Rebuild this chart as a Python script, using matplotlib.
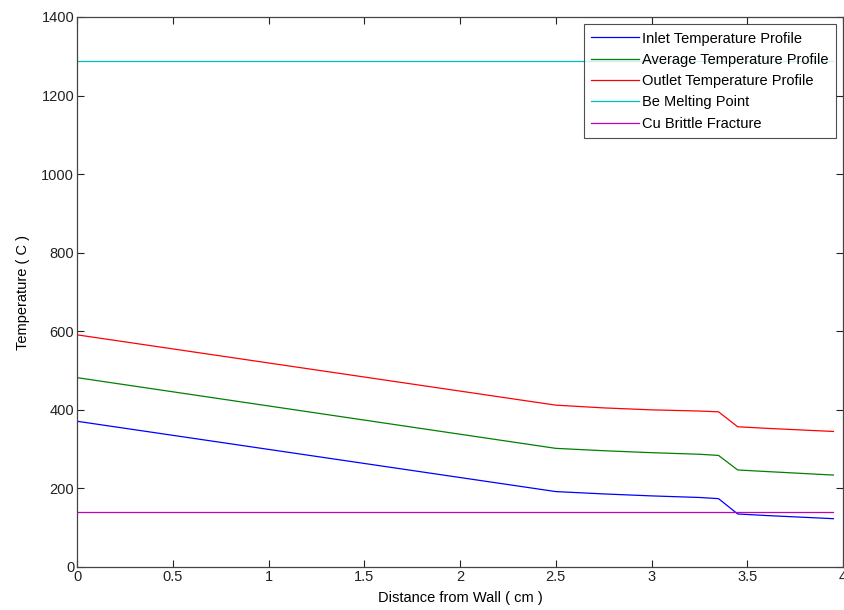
"""
Wall temperature profiles vs. distance from wall, with material limits.
"""

import matplotlib.pyplot as plt

# --- data ---
distance_cm = [0.0, 2.5, 2.75, 3.0, 3.25, 3.35, 3.45, 3.6, 3.95]
inlet_temp = [371, 192, 186, 181, 177, 174, 135, 131, 123]
average_temp = [482, 302, 296, 291, 287, 284, 247, 243, 234]
outlet_temp = [591, 412, 405, 400, 397, 395, 357, 353, 345]

be_melting_point = 1287
cu_brittle_fracture = 140

x_ticks = [0, 0.5, 1, 1.5, 2, 2.5, 3, 3.5, 4]
y_ticks = [0, 200, 400, 600, 800, 1000, 1200, 1400]

plt.rcParams["font.family"] = ["Liberation Sans", "DejaVu Sans"]

fig = plt.figure(figsize=(8.44, 6.10), dpi=100)
ax = fig.add_axes([77 / 844, 43 / 610, 766 / 844, 550 / 610])

lw = 0.9
ax.plot(distance_cm, inlet_temp, color="#0000ff", linewidth=lw, label="Inlet Temperature Profile")
ax.plot(distance_cm, average_temp, color="#008000", linewidth=lw, label="Average Temperature Profile")
ax.plot(distance_cm, outlet_temp, color="#ff0000", linewidth=lw, label="Outlet Temperature Profile")
ax.plot([distance_cm[0], distance_cm[-1]], [be_melting_point] * 2,
        color="#00bfbf", linewidth=lw, label="Be Melting Point")
ax.plot([distance_cm[0], distance_cm[-1]], [cu_brittle_fracture] * 2,
        color="#bf00bf", linewidth=lw, label="Cu Brittle Fracture")

ax.set_xlim(0, 4)
ax.set_ylim(0, 1400)
ax.set_xticks(x_ticks)
ax.set_xticklabels([f"{t:g}" for t in x_ticks])
ax.set_yticks(y_ticks)

ax.tick_params(direction="in", top=True, right=True, length=5, width=0.8,
               labelsize=10.5, colors="#222222", pad=2)
for s in ax.spines.values():
    s.set_color("#444444")
    s.set_linewidth(0.9)

ax.set_xlabel("Distance from Wall ( cm )", fontsize=10.5, labelpad=5)
ax.set_ylabel("Temperature ( C )", fontsize=10.5, labelpad=8)

leg = ax.legend(loc="upper right", fontsize=10.5, frameon=True, fancybox=False,
                borderaxespad=0.5, handlelength=3.3, handletextpad=0.2,
                labelspacing=0.5, borderpad=0.5)
leg.get_frame().set_edgecolor("#222222")
leg.get_frame().set_linewidth(0.8)

fig.savefig("out.png", dpi=100)
